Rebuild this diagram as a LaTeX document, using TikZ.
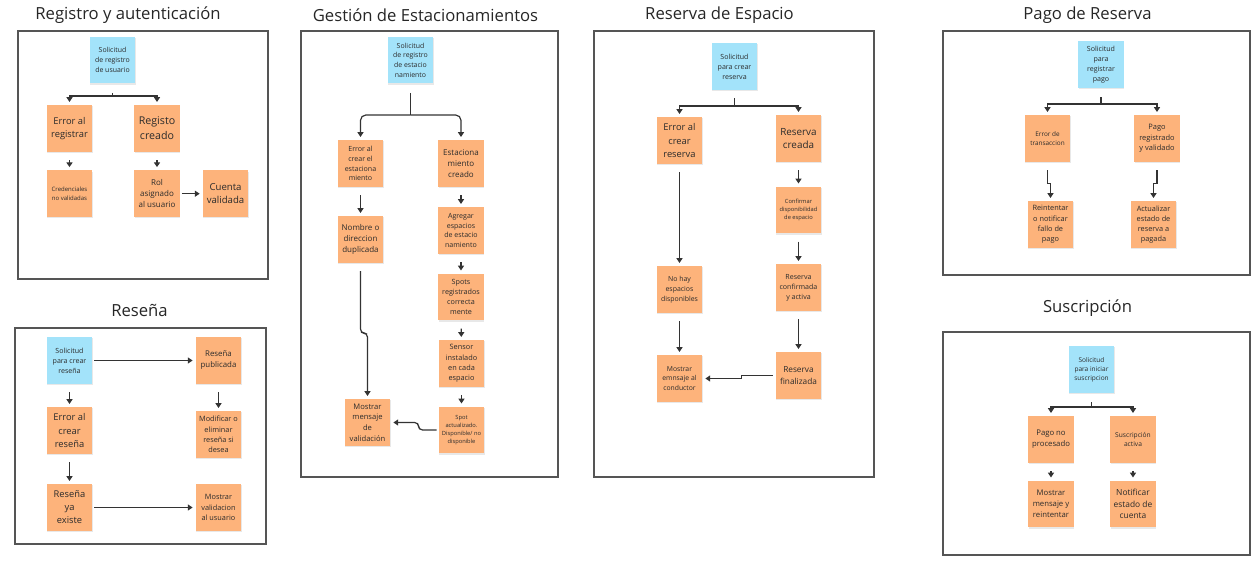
\documentclass[tikz,border=0pt]{standalone}
\usepackage{fontspec}
\setmainfont{Open Sans}
\usepackage{tikz}
\usetikzlibrary{arrows.meta,calc,positioning,shadows}
\definecolor{noteorange}{HTML}{FDB37B}
\definecolor{noteblue}{HTML}{A3E3FA}
\definecolor{framecol}{HTML}{555555}
\definecolor{wirecol}{HTML}{333333}
\definecolor{notetext}{HTML}{2B2B2B}
\tikzset{
	flow/.style={x=0.75pt, y=-0.75pt},
	panel/.style={draw=framecol, line width=1.1pt},
	title/.style={font=\fontsize{12.5pt}{15pt}\selectfont, text=black!85},
	fs/.style={font=\fontsize{#1pt}{\dimexpr#1pt*14/10\relax}\selectfont},
	note/.style={fill=noteorange, text=notetext, align=center, inner sep=1pt,
		minimum width=34pt, minimum height=35pt,
		drop shadow={shadow xshift=0.3pt, shadow yshift=-0.9pt, opacity=0.18}},
	req/.style={note, fill=noteblue},
	wire/.style={draw=wirecol, line width=0.9pt},
	ar/.style={wire, -{Triangle[width=4.5pt,length=3.6pt]}, shorten >=2.2pt},
	gap/.style={shorten <=6pt},
}
\begin{document}
\begin{tikzpicture}[flow]
	\useasboundingbox (0,0) rectangle (1258,575);
	% Registro y autenticacion
	\node[title] (tReg) at (128,15) {Registro y autenticación};
	\draw[panel] (18,31) rectangle (268,279);
	\node[req, fs=5.2] (solReg) at (112.5,60) {Solicitud\\de registro\\de usuario};
	\node[note, fs=7] (errReg) at (69.5,128.5) {Error al\\registrar};
	\node[note, fs=8] (okReg) at (157,128.5) {Registo\\creado};
	\node[note, fs=4.5, below=13.5pt of errReg] (credReg) {Credenciales\\no validadas};
	\node[note, fs=6, below=13.5pt of okReg] (rolReg) {Rol\\asignado\\al usuario};
	\node[note, fs=7.2, right=17pt of rolReg] (cueReg) {Cuenta\\validada};
	\coordinate (bReg) at (112.5,96);
	\draw[wire, shorten <=7pt] (solReg) -- (bReg);
	\draw[ar] (bReg) -| (errReg);
	\draw[ar] (bReg) -| (okReg);
	\draw[ar, gap] (errReg) -- (credReg);
	\draw[ar, gap] (okReg) -- (rolReg);
	\draw[ar, shorten <=1.5pt] (rolReg) -- (cueReg);

	% Resena
	\node[title] (tRes) at (139.5,310) {Reseña};
	\draw[panel] (15,328) rectangle (266,544);
	\node[req, fs=5.3] (solRes) at (69.5,360.5) {Solicitud\\para crear\\reseña};
	\node[note, fs=5.9] (pubRes) at (218.5,360.5) {Reseña\\publicada};
	\node[note, fs=7] (errRes) at (69.5,430.5) {Error al\\crear\\reseña};
	\node[note, fs=5.5] (modRes) at (218.5,434.5) {Modificar o\\eliminar\\reseña si\\desea};
	\node[note, fs=7] (exRes) at (69.5,507.5) {Reseña\\ya\\existe};
	\node[note, fs=5.5] (valRes) at (218.5,507.5) {Mostrar\\validacion\\al usuario};
	\draw[ar, shorten <=1.5pt] (solRes) -- (pubRes);
	\draw[ar, gap] (solRes) -- (errRes);
	\draw[ar, gap] (errRes) -- (exRes);
	\draw[ar, gap] (pubRes) -- (modRes);
	\draw[ar, shorten <=1.5pt] (exRes) -- (valRes);

	% Gestion de estacionamientos
	\node[title] (tEst) at (425.5,15) {Gestión de Estacionamientos};
	\draw[panel] (301,31) rectangle (558,477);
	\node[req, fs=5.2] (solEst) at (410.5,60) {Solicitud\\de registro\\de estacio\\namiento};
	\node[note, fs=5.3] (errEst) at (360.5,163.5) {Error al\\crear el\\estaciona\\miento};
	\node[note, fs=6] (okEst) at (461,163.5) {Estaciona\\miento\\creado};
	\node[note, fs=6] (dupEst) at (360.5,239.5) {Nombre o\\direccion\\duplicada};
	\node[note, fs=5.3] (agrEst) at (461,230.5) {Agregar\\espacios\\de estacio\\namiento};
	\node[note, fs=5.4] (spoEst) at (461,297) {Spots\\registrados\\correcta\\mente};
	\node[note, fs=5.5] (senEst) at (461.5,363.5) {Sensor\\instalado\\en cada\\espacio};
	\node[note, fs=4.3] (actEst) at (461.5,430) {Spot\\actualizado.\\Disponible/ no\\disponible};
	\node[note, fs=5.7] (msgEst) at (367.5,422.5) {Mostrar\\mensaje\\de\\validación};
	\coordinate (bEst) at (410.5,115);
	\draw[wire, shorten <=7pt] (solEst) -- (bEst);
	\draw[ar, rounded corners=4pt] (bEst) -| (errEst);
	\draw[ar, rounded corners=4pt] (bEst) -| (okEst);
	\draw[ar, gap] (errEst) -- (dupEst);
	\draw[ar, gap] (okEst) -- (agrEst);
	\draw[ar, gap] (agrEst) -- (spoEst);
	\draw[ar, gap] (spoEst) -- (senEst);
	\draw[ar, gap] (senEst) -- (actEst);
	\draw[ar, gap, rounded corners=3pt] (dupEst.south) -- ++(0,70) -| (msgEst);
	\draw[ar, shorten <=1.5pt, rounded corners=3pt] (actEst.west) -- ++(-20,0) |- (msgEst);

	% Reserva de espacio
	\node[title] (tRsv) at (719.5,15) {Reserva de Espacio};
	\draw[panel] (594,31) rectangle (874,477);
	\node[req, fs=5.3] (solRsv) at (734.5,66.5) {Solicitud\\para crear\\reserva};
	\node[note, fs=7] (errRsv) at (679.5,140.5) {Error al\\crear\\reserva};
	\node[note, fs=7.4] (okRsv) at (798.5,138.5) {Reserva\\creada};
	\node[note, fs=4.3] (dispRsv) at (798.5,210) {Confirmar\\disponibilidad\\de espacio};
	\node[note, fs=5.2] (nohRsv) at (679.5,289.5) {No hay\\espacios\\disponibles};
	\node[note, fs=5.3] (actRsv) at (798.5,287.5) {Reserva\\confirmada\\y activa};
	\node[note, fs=6.2] (finRsv) at (798.5,375.5) {Reserva\\finalizada};
	\node[note, fs=5.1] (msgRsv) at (679.5,378.5) {Mostrar\\emnsaje al\\conductor};
	\coordinate (bRsv) at (734.5,106);
	\draw[wire, shorten <=6pt] (solRsv) -- (bRsv);
	\draw[ar] (bRsv) -| (errRsv);
	\draw[ar] (bRsv) -| (okRsv);
	\draw[ar, gap] (okRsv) -- (dispRsv);
	\draw[ar, gap] (dispRsv) -- (actRsv);
	\draw[ar, gap] (actRsv) -- (finRsv);
	\draw[ar, gap] (errRsv) -- (nohRsv);
	\draw[ar, gap] (nohRsv) -- (msgRsv);
	\draw[ar, shorten <=2pt] (finRsv.west) -- ++(-34,0) |- (msgRsv);

	% Pago de reserva
	\node[title] (tPag) at (1087.5,15) {Pago de Reserva};
	\draw[panel] (943,31) rectangle (1250,275);
	\node[req, fs=5.3] (solPag) at (1101,64.5) {Solicitud\\para\\registrar\\pago};
	\node[note, fs=4.8] (errPag) at (1047.5,138.5) {Error de\\transaccion};
	\node[note, fs=5.6] (okPag) at (1157,138.5) {Pago\\registrado\\y validado};
	\node[note, fs=5.5] (reiPag) at (1050.5,224.5) {Reintentar\\o notificar\\fallo de\\pago};
	\node[note, fs=5.5] (actPag) at (1153.5,224.5) {Actualizar\\estado de\\reserva a\\pagada};
	\coordinate (bPag) at (1101,104);
	\draw[wire, shorten <=7pt] (solPag) -- (bPag);
	\draw[ar] (bPag) -| (errPag);
	\draw[ar] (bPag) -| (okPag);
	\draw[ar, gap] (errPag.south) -- ++(0,21) -| (reiPag);
	\draw[ar, gap] (okPag.south) -- ++(0,21) -| (actPag);

	% Suscripcion
	\node[title] (tSus) at (1087.5,308) {Suscripción};
	\draw[panel] (943,332) rectangle (1250,555);
	\node[req, fs=4.9] (solSus) at (1091.5,369.5) {Solicitud\\para iniciar\\suscripcion};
	\node[note, fs=5.8] (noSus) at (1051,439.5) {Pago no\\procesado};
	\node[note, fs=5] (okSus) at (1133,439.5) {Suscripción\\activa};
	\node[note, fs=5.8, below=13pt of noSus] (msgSus) {Mostrar\\mensaje y\\reintentar};
	\node[note, fs=6.3, below=13pt of okSus] (notSus) {Notificar\\estado de\\cuenta};
	\coordinate (bSus) at (1091.5,407);
	\draw[wire, shorten <=7pt] (solSus) -- (bSus);
	\draw[ar] (bSus) -| (noSus);
	\draw[ar] (bSus) -| (okSus);
	\draw[ar, gap] (noSus) -- (msgSus);
	\draw[ar, gap] (okSus) -- (notSus);
\end{tikzpicture}
\end{document}
